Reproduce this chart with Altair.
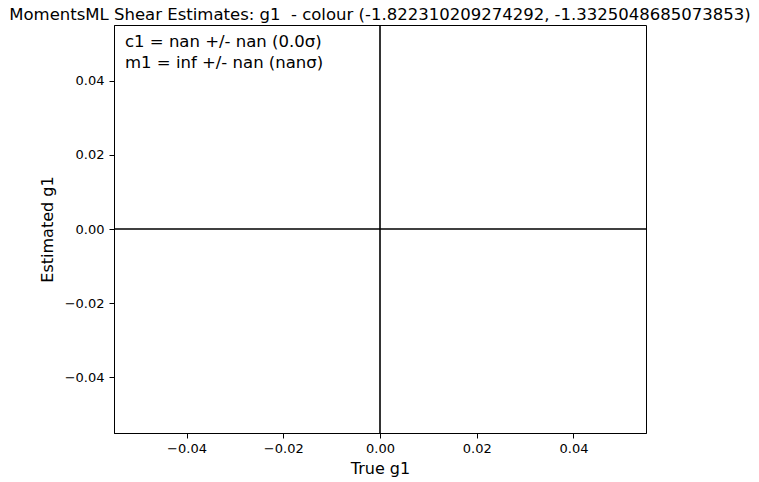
import altair as alt
import pandas as pd

title_text = "MomentsML Shear Estimates: g1\u00a0 - colour (-1.822310209274292, -1.3325048685073853)"
x_label = "True g1"
y_label = "Estimated g1"
domain = [-0.055, 0.055]
tick_values = [-0.04, -0.02, 0.0, 0.02, 0.04]
vline_x = [0.0]
hline_y = [0.0]
annotations = ["c1 = nan +/- nan (0.0σ)", "m1 = inf +/- nan (nanσ)"]

font = "DejaVu Sans"

xs = alt.Scale(domain=domain, nice=False, zero=False)
ys = alt.Scale(domain=domain, nice=False, zero=False)

xaxis = alt.Axis(values=tick_values, format=".2f", grid=False, title=x_label,
                 domainColor="black", tickColor="black", tickSize=5, labelPadding=4,
                 labelFontSize=13, labelFont=font, labelColor="black",
                 titleFontSize=16, titleFont=font, titleFontWeight="normal",
                 titleColor="black", titlePadding=5)
yaxis = alt.Axis(values=tick_values, format=".2f", grid=False, title=y_label,
                 domainColor="black", tickColor="black", tickSize=5, labelPadding=5,
                 labelFontSize=13, labelFont=font, labelColor="black",
                 titleFontSize=16, titleFont=font, titleFontWeight="normal",
                 titleColor="black", titlePadding=9)

vdf = pd.DataFrame({"x": vline_x})
hdf = pd.DataFrame({"y": hline_y})
adf = pd.DataFrame({"text": annotations, "row": list(range(len(annotations)))})

vrule = alt.Chart(vdf).mark_rule(color="black", strokeWidth=1.6).encode(
    x=alt.X("x:Q", scale=xs, axis=xaxis)
)
hrule = alt.Chart(hdf).mark_rule(color="black", strokeWidth=1.6).encode(
    y=alt.Y("y:Q", scale=ys, axis=yaxis)
)
text = alt.Chart(adf).mark_text(align="left", baseline="alphabetic", font=font,
                                fontSize=16.5, color="black").encode(
    x=alt.value(11),
    y=alt.Y("row:Q", scale=alt.Scale(domain=[0, 1], range=[22, 43]), axis=None),
    text="text:N",
)

chart = alt.layer(vrule, hrule, text).resolve_scale(y="independent").properties(
    width=532, height=408,
    background="white",
    title=alt.TitleParams(title_text, font=font, fontSize=16.5, fontWeight="normal",
                          color="black", anchor="middle", offset=0.5),
    autosize=alt.AutoSizeParams(type="none"),
    padding={"left": 106, "top": 17, "right": 105, "bottom": 60},
).configure_view(stroke="black", strokeWidth=1)

chart.save("out.html", embed_options={"renderer": "svg", "actions": False})
